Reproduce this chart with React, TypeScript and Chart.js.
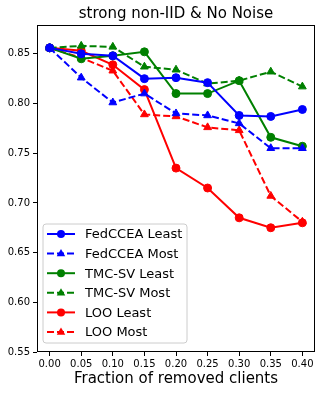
import React, { useEffect, useRef } from "react";
import { Chart, registerables } from "chart.js";

Chart.register(...registerables);

const fractions = [0.0, 0.05, 0.1, 0.15, 0.2, 0.25, 0.3, 0.35, 0.4];
const fedLeast = [0.856, 0.85, 0.848, 0.825, 0.826, 0.821, 0.788, 0.787, 0.794];
const fedMost = [0.856, 0.826, 0.801, 0.81, 0.79, 0.788, 0.78, 0.755, 0.755];
const tmcLeast = [0.856, 0.845, 0.848, 0.852, 0.81, 0.81, 0.823, 0.766, 0.757];
const tmcMost = [0.856, 0.858, 0.857, 0.837, 0.834, 0.82, 0.823, 0.832, 0.817];
const looLeast = [0.856, 0.853, 0.839, 0.814, 0.735, 0.715, 0.685, 0.675, 0.68];
const looMost = [0.856, 0.846, 0.833, 0.789, 0.787, 0.776, 0.773, 0.707, 0.681];
const yTicks = [0.55, 0.6, 0.65, 0.7, 0.75, 0.8, 0.85];
const xTicks = [0.0, 0.05, 0.1, 0.15, 0.2, 0.25, 0.3, 0.35, 0.4];
const titleText = "strong non-IID & No Noise";
const xLabel = "Fraction of removed clients";

const FONT = "'DejaVu Sans', sans-serif";

function mk(label: string, vals: number[], color: string, dashed: boolean) {
  return {
    label,
    data: vals.map((v, i) => ({ x: fractions[i], y: v })),
    borderColor: color,
    backgroundColor: color,
    borderWidth: 2,
    borderDash: dashed ? [7, 3] : [],
    pointStyle: dashed ? "triangle" : "circle",
    pointRadius: dashed ? 4.5 : 4,
    pointBorderWidth: 1,
    pointBorderColor: color,
    pointBackgroundColor: color,
    showLine: true,
    tension: 0,
    fill: false,
  };
}

const overlay = {
  id: "overlay",
  afterDraw(chart: any) {
    const ctx = chart.ctx as CanvasRenderingContext2D;
    const a = chart.chartArea;
    ctx.save();
    ctx.strokeStyle = "#000";
    ctx.lineWidth = 1;
    ctx.setLineDash([]);
    ctx.strokeRect(Math.round(a.left) + 0.5, Math.round(a.top) + 0.5, Math.round(a.right - a.left) - 1, Math.round(a.bottom - a.top) - 1);
    ctx.fillStyle = "#000";
    ctx.textAlign = "center";
    ctx.textBaseline = "middle";
    ctx.font = `15px ${FONT}`;
    ctx.fillText(titleText, (a.left + a.right) / 2, 14);
    ctx.font = `15px ${FONT}`;
    ctx.fillText(xLabel, (a.left + a.right) / 2, 379);
    const bx = 43, by = 224, bw = 144, bh = 119, r = 3;
    ctx.beginPath();
    ctx.moveTo(bx + r, by);
    ctx.lineTo(bx + bw - r, by);
    ctx.quadraticCurveTo(bx + bw, by, bx + bw, by + r);
    ctx.lineTo(bx + bw, by + bh - r);
    ctx.quadraticCurveTo(bx + bw, by + bh, bx + bw - r, by + bh);
    ctx.lineTo(bx + r, by + bh);
    ctx.quadraticCurveTo(bx, by + bh, bx, by + bh - r);
    ctx.lineTo(bx, by + r);
    ctx.quadraticCurveTo(bx, by, bx + r, by);
    ctx.closePath();
    ctx.fillStyle = "rgba(255,255,255,0.8)";
    ctx.fill();
    ctx.strokeStyle = "#cccccc";
    ctx.lineWidth = 1;
    ctx.stroke();
    chart.data.datasets.forEach((ds: any, i: number) => {
      const y = 234 + i * 19.6;
      ctx.strokeStyle = ds.borderColor;
      ctx.lineWidth = 2;
      ctx.setLineDash(ds.borderDash || []);
      ctx.beginPath();
      ctx.moveTo(47, y);
      ctx.lineTo(75, y);
      ctx.stroke();
      ctx.setLineDash([]);
      ctx.fillStyle = ds.borderColor;
      ctx.beginPath();
      if (ds.pointStyle === "circle") {
        ctx.arc(61, y, 4, 0, Math.PI * 2);
      } else {
        const rr = 4.5;
        ctx.moveTo(61, y - rr);
        ctx.lineTo(61 + rr * 0.95, y + rr * 0.6);
        ctx.lineTo(61 - rr * 0.95, y + rr * 0.6);
        ctx.closePath();
      }
      ctx.fill();
      ctx.fillStyle = "#000";
      ctx.textAlign = "left";
      ctx.textBaseline = "middle";
      ctx.font = `13px ${FONT}`;
      ctx.fillText(ds.label, 85, y + 1);
    });
    ctx.restore();
  },
};

export default function App() {
  const ref = useRef<HTMLCanvasElement | null>(null);
  useEffect(() => {
    document.body.style.margin = "0";
    const chart = new Chart(ref.current as HTMLCanvasElement, {
      type: "scatter",
      data: {
        datasets: [
          mk("FedCCEA Least", fedLeast, "#0000ff", false),
          mk("FedCCEA Most", fedMost, "#0000ff", true),
          mk("TMC-SV Least", tmcLeast, "#008000", false),
          mk("TMC-SV Most", tmcMost, "#008000", true),
          mk("LOO Least", looLeast, "#ff0000", false),
          mk("LOO Most", looMost, "#ff0000", true),
        ] as any,
      },
      options: {
        animation: false,
        responsive: false,
        maintainAspectRatio: false,
        layout: { padding: { top: 25, right: 7, left: 0, bottom: 0 } },
        plugins: { legend: { display: false }, title: { display: false }, tooltip: { enabled: false } },
        scales: {
          x: {
            type: "linear",
            min: -0.02,
            max: 0.42,
            afterBuildTicks: (s: any) => {
              s.ticks = xTicks.map((v) => ({ value: v }));
            },
            afterFit: (s: any) => {
              s.height = 42;
            },
            ticks: {
              callback: (v: any) => Number(v).toFixed(2),
              font: { family: FONT, size: 10 },
              color: "#000",
              padding: 2,
              maxRotation: 0,
              autoSkip: false,
            },
            grid: { display: true, drawOnChartArea: false, drawTicks: true, tickLength: 4, color: "#000" },
            border: { display: false },
          },
          y: {
            type: "linear",
            min: 0.55,
            max: 0.879,
            afterBuildTicks: (s: any) => {
              s.ticks = yTicks.map((v) => ({ value: v }));
            },
            afterFit: (s: any) => {
              s.width = 37;
            },
            ticks: {
              callback: (v: any) => Number(v).toFixed(2),
              font: { family: FONT, size: 10 },
              color: "#000",
              padding: 3,
              autoSkip: false,
            },
            grid: { display: true, drawOnChartArea: false, drawTicks: true, tickLength: 4, color: "#000" },
            border: { display: false },
          },
        },
      } as any,
      plugins: [overlay],
    });
    return () => chart.destroy();
  }, []);
  return (
    <div style={{ position: "absolute", left: 0, top: 0, width: 322, height: 394, background: "#fff" }}>
      <canvas ref={ref} width={322} height={394} style={{ width: 322, height: 394 }} />
    </div>
  );
}
